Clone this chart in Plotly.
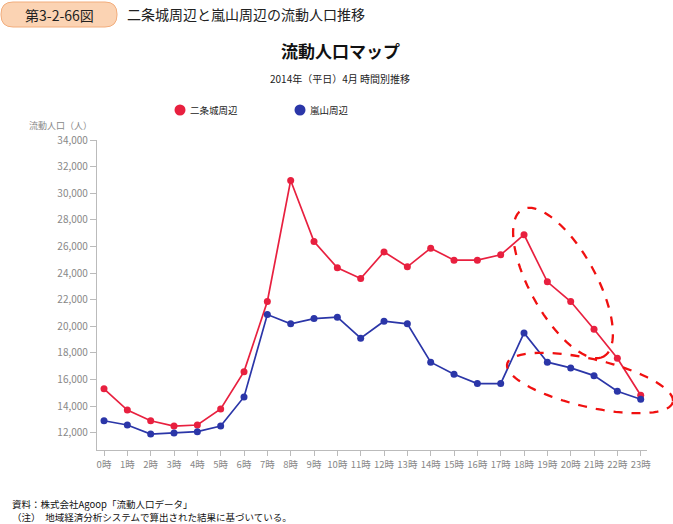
import numpy as np
import plotly.graph_objects as go

# ---- data ----
hours = [f"{h}時" for h in range(24)]
nijo = [15300, 13700, 12900, 12500, 12580, 13780, 16590, 21860, 30960, 26370, 24390, 23590,
        25590, 24470, 25870, 24970, 24970, 25370, 26880, 23340, 21860, 19780, 17600, 14810]
arashiyama = [12900, 12580, 11900, 11980, 12080, 12500, 14690, 20880, 20180, 20580, 20680, 19100,
              20380, 20180, 17300, 16390, 15690, 15690, 19500, 17300, 16870, 16290, 15120, 14510]
series_names = ["二条城周辺", "嵐山周辺"]
y_ticks = list(range(12000, 34001, 2000))

RED = "#e8203f"
BLUE = "#2b36a8"
FONT = "Noto Sans CJK JP"

W, H = 673, 524
L, R, T, B = 97, 26, 140, 74
PW, PH = W - L - R, H - T - B


def px(x):
    return (x - L) / PW


def py(y):
    return (H - B - y) / PH


fig = go.Figure()
for name, vals, col in [(series_names[0], nijo, RED), (series_names[1], arashiyama, BLUE)]:
    fig.add_trace(go.Scatter(x=hours, y=vals, mode="lines+markers", name=name,
                             line=dict(color=col, width=1.7),
                             marker=dict(color=col, size=7), showlegend=False))

shapes = []


def ellipse_path(cx, cy, a, b, deg, n=80):
    t = np.linspace(0, 2 * np.pi, n)
    th = np.radians(deg)
    xs = cx + a * np.cos(t) * np.cos(th) - b * np.sin(t) * np.sin(th)
    ys = cy + a * np.cos(t) * np.sin(th) + b * np.sin(t) * np.cos(th)
    pts = [f"{px(x):.5f},{py(y):.5f}" for x, y in zip(xs, ys)]
    return "M" + " L".join(pts) + " Z"


for (cx, cy, a, b, deg) in [(563, 283, 84, 33, 61), (590, 383, 85, 24, 13)]:
    shapes.append(dict(type="path", xref="paper", yref="paper",
                       path=ellipse_path(cx, cy, a, b, deg),
                       line=dict(color="#f01010", width=2.3, dash="dash")))

# header rounded box
x0, x1, y0, y1, r = 1, 117, 2, 27, 12
hp = (f"M{px(x0 + r)},{py(y0)} L{px(x1 - r)},{py(y0)} "
      f"Q{px(x1)},{py(y0)} {px(x1)},{py(y0 + r)} L{px(x1)},{py(y1 - r)} "
      f"Q{px(x1)},{py(y1)} {px(x1 - r)},{py(y1)} L{px(x0 + r)},{py(y1)} "
      f"Q{px(x0)},{py(y1)} {px(x0)},{py(y1 - r)} L{px(x0)},{py(y0 + r)} "
      f"Q{px(x0)},{py(y0)} {px(x0 + r)},{py(y0)} Z")
shapes.append(dict(type="path", xref="paper", yref="paper", path=hp,
                   fillcolor="#fbd3b3", line=dict(color="#f2ad7c", width=1)))

# legend symbols
legend_pos = [(180, 110), (300, 110)]
for (lx, ly), col in zip(legend_pos, [RED, BLUE]):
    shapes.append(dict(type="circle", xref="paper", yref="paper",
                       x0=px(lx - 5.5), x1=px(lx + 5.5), y0=py(ly + 5.5), y1=py(ly - 5.5),
                       fillcolor=col, line=dict(color=col, width=0)))

annotations = [
    dict(text="第3-2-66図", x=px(59), y=py(15), xanchor="center", yanchor="middle",
         font=dict(size=14, color="#222")),
    dict(text="二条城周辺と嵐山周辺の流動人口推移", x=px(125), y=py(14), xanchor="left",
         yanchor="middle", font=dict(size=14, color="#222")),
    dict(text="<b>流動人口マップ</b>", x=px(340), y=py(50), xanchor="center", yanchor="middle",
         font=dict(size=17, color="#111")),
    dict(text="2014年（平日）4月 時間別推移", x=px(340), y=py(78), xanchor="center",
         yanchor="middle", font=dict(size=10, color="#222")),
    dict(text="流動人口（人）", x=px(94), y=py(125), xanchor="right", yanchor="middle",
         font=dict(size=9, color="#888")),
    dict(text=series_names[0], x=px(188), y=py(110), xanchor="left", yanchor="middle",
         font=dict(size=9.5, color="#222")),
    dict(text=series_names[1], x=px(308), y=py(110), xanchor="left", yanchor="middle",
         font=dict(size=9.5, color="#222")),
    dict(text="資料：株式会社Agoop「流動人口データ」", x=px(10), y=py(504), xanchor="left",
         yanchor="middle", font=dict(size=9.5, color="#111")),
    dict(text="（注）　地域経済分析システムで算出された結果に基づいている。", x=px(10), y=py(517),
         xanchor="left", yanchor="middle", font=dict(size=9.5, color="#111")),
]
for a in annotations:
    a.update(xref="paper", yref="paper", showarrow=False)
    a["font"]["family"] = FONT

fig.update_layout(
    width=W, height=H, margin=dict(l=L, r=R, t=T, b=B, pad=0),
    paper_bgcolor="white", plot_bgcolor="white",
    font=dict(family=FONT, color="#888"),
    shapes=shapes, annotations=annotations, showlegend=False,
    xaxis=dict(type="category", range=[-0.3, 23.27], showline=True, linecolor="#bbb",
               linewidth=1.2, ticks="outside", ticklen=5, tickcolor="#bbb", showgrid=False,
               tickfont=dict(size=9.5, color="#888"), zeroline=False),
    yaxis=dict(range=[10700, 34000], tickvals=y_ticks, tickformat=",", showline=True,
               linecolor="#bbb", linewidth=1.2, ticks="outside", ticklen=6, tickcolor="#bbb",
               showgrid=False, zeroline=False, tickfont=dict(size=10, color="#888")),
)

fig.write_html("out.html", config={"displayModeBar": False})
with open("out.html", encoding="utf-8") as f:
    html = f.read()
html = html.replace("<head>", "<head><style>html,body{margin:0;padding:0;overflow:hidden}</style>", 1)
with open("out.html", "w", encoding="utf-8") as f:
    f.write(html)
